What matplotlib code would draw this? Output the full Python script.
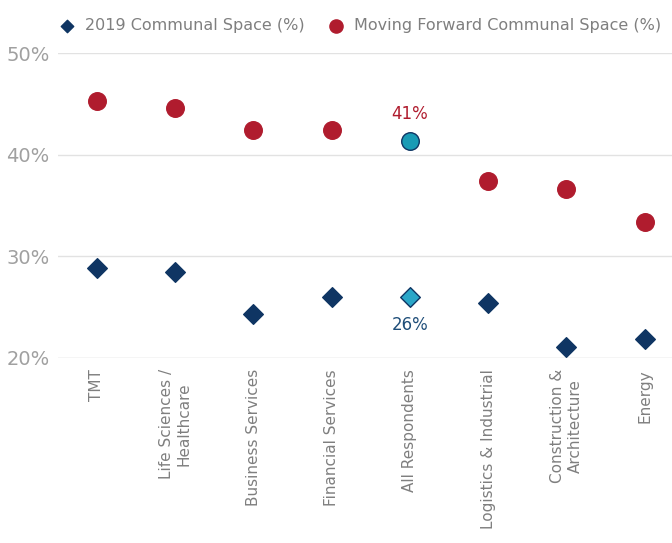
import matplotlib
matplotlib.use("Agg")
import matplotlib.pyplot as plt

categories = ["TMT", "Life Sciences /\nHealthcare", "Business Services", "Financial Services",
              "All Respondents", "Logistics & Industrial", "Construction &\nArchitecture", "Energy"]
val_2019 = [28.8, 28.5, 24.3, 26.0, 26.0, 25.4, 21.1, 21.9]
val_forward = [45.3, 44.6, 42.4, 42.4, 41.4, 37.4, 36.6, 33.4]
highlight = 4

navy = "#0f3563"; red = "#b01c2e"; teal = "#1a9bb5"; teal2 = "#2aa6c8"; gray = "#a0a0a0"

fig = plt.figure(figsize=(6.72, 5.43), dpi=100)
ax = fig.add_axes([0.086, 0.341, 0.914, 0.561])
x = list(range(len(categories)))
xs = [i for i in x if i != highlight]
ax.scatter(xs, [val_2019[i] for i in xs], marker="D", s=100, color=navy, zorder=3)
ax.scatter(xs, [val_forward[i] for i in xs], marker="o", s=160, color=red, zorder=3)
ax.scatter([highlight], [val_2019[highlight]], marker="D", s=100, color=teal2, edgecolor=navy, linewidth=1, zorder=3)
ax.scatter([highlight], [val_forward[highlight]], marker="o", s=160, color=teal, edgecolor=navy, linewidth=1, zorder=3)
ax.text(highlight, val_forward[highlight] + 2.6, f"{val_forward[highlight]:.0f}%", color=red, fontsize=12, ha="center", va="center")
ax.text(highlight, val_2019[highlight] - 2.8, f"{val_2019[highlight]:.0f}%", color="#1f4e79", fontsize=12, ha="center", va="center")

ax.set_xlim(-0.5, 7.35)
ax.set_ylim(20, 50)
ax.set_yticks([20, 30, 40, 50])
ax.set_yticklabels(["20%", "30%", "40%", "50%"], color=gray, fontsize=14)
for y in [30, 40, 50]:
    ax.axhline(y, color="#e2e2e2", lw=1, zorder=0)
ax.axhline(20, color="#d0d0d0", lw=1, zorder=1)
for s in ax.spines.values():
    s.set_visible(False)
ax.tick_params(length=0)
ax.tick_params(axis="y", pad=6)
ax.set_xticks(x)
ax.set_xticklabels(categories, rotation=90, color="#7f7f7f", fontsize=11, va="top", ha="center")
ax.tick_params(axis="x", pad=8)

h1 = ax.scatter([], [], marker="D", s=40, color=navy)
h2 = ax.scatter([], [], marker="o", s=90, color=red)
fig.legend([h1, h2], ["2019 Communal Space (%)", "Moving Forward Communal Space (%)"],
           loc="center", bbox_to_anchor=(0.53, 0.953), ncol=2, frameon=False,
           fontsize=11.5, labelcolor="#7f7f7f", handletextpad=0.1, columnspacing=1.0)
fig.savefig("out.png", dpi=100)
